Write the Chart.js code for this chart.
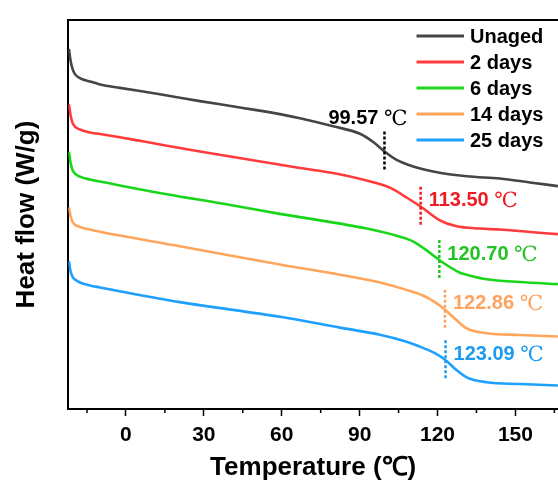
<!DOCTYPE html>
<html><head><meta charset="utf-8">
<script src="https://cdn.jsdelivr.net/npm/chart.js@4"></script>
<style>html,body{margin:0;padding:0;background:#fff;overflow:hidden}canvas{display:block}</style>
</head><body>
<canvas id="c" width="558" height="484"></canvas>
<script>
// ---- data (heat flow in arbitrary offset units) ----
const seriesNames  = ['Unaged', '2 days', '6 days', '14 days', '25 days'];
const seriesColors = ['#454545', '#ff3b3b', '#1ad61a', '#ffa65c', '#1ea0ff'];
const labelColors  = ['#000000', '#ee1c25', '#22c322', '#ffa35e', '#1c9cf0'];

const unagedT  = [-21.95,-21.37,-20.60,-19.64,-17.72,-13.86,-10.01,-2.31,13.09,28.50,43.90,59.31,67.01,79.83,90.12,95.24,99.74,104.25,110.64,118.34,131.21,144.03,155.58,166.36];
const unagedHF = [36.73,35.60,34.70,34.15,33.75,33.40,33.10,32.75,32.10,31.40,30.75,30.07,29.65,28.83,28.07,27.23,26.23,25.40,24.73,24.23,23.73,23.50,23.10,22.73];

const day2T  = [-21.95,-21.37,-20.60,-19.64,-17.72,-13.86,-10.01,5.39,28.50,67.01,79.83,92.70,101.67,108.10,113.88,120.92,127.36,136.30,144.03,155.58,166.36];
const day2HF = [31.07,30.00,29.20,28.80,28.50,28.20,28.05,27.35,26.25,24.57,24.07,23.30,22.57,21.57,20.57,19.23,18.63,18.40,18.30,18.05,17.83];

const day6T  = [-21.95,-21.37,-20.60,-19.64,-17.72,-13.86,-10.01,15.79,38.13,59.31,67.01,92.70,105.52,110.53,115.15,121.31,128.63,131.21,138.91,151.73,166.36];
const day6HF = [26.23,25.20,24.40,24.00,23.70,23.40,23.20,21.90,20.90,19.90,19.57,18.40,17.57,17.10,16.30,15.07,13.90,13.70,13.23,12.95,12.73];

const day14T  = [-21.95,-21.37,-20.60,-19.64,-17.72,-13.86,-10.01,20.80,59.31,82.41,97.82,107.45,114.38,119.00,123.12,126.70,131.21,138.91,151.73,166.36];
const day14HF = [20.57,19.70,19.10,18.80,18.57,18.30,18.07,16.60,14.73,13.70,12.90,12.20,11.57,10.90,10.07,9.20,8.23,7.73,7.55,7.40];

const day25T  = [-21.95,-21.37,-20.60,-19.64,-17.72,-13.86,-10.01,20.80,59.31,82.41,97.82,107.45,114.38,119.00,123.51,126.70,131.21,138.91,151.73,166.36];
const day25HF = [15.07,14.10,13.50,13.20,12.90,12.60,12.40,10.90,9.40,8.30,7.57,6.90,6.23,5.70,4.90,4.10,3.23,2.73,2.55,2.40];

const tgValues    = [99.57, 113.50, 120.70, 122.86, 123.09];
const xMajorTicks = [0, 30, 60, 90, 120, 150];
const xMinorTicks = [-15, 15, 45, 75, 105, 135, 165];

const seriesT  = [unagedT, day2T, day6T, day14T, day25T];
const seriesHF = [unagedHF, day2HF, day6HF, day14HF, day25HF];

const SANS = "'Liberation Sans', Arial, sans-serif";
const SERIF = "'Liberation Serif', 'DejaVu Serif', 'Times New Roman', serif";

function interp(data, xv) {
  for (let i = 0; i < data.length - 1; i++) {
    const a = data[i], b = data[i + 1];
    if (xv >= a.x && xv <= b.x) return a.y + (b.y - a.y) * (xv - a.x) / (b.x - a.x);
  }
  return data[data.length - 1].y;
}

const datasets = seriesNames.map((n, i) => ({
  label: n,
  data: seriesT[i].map((t, k) => ({ x: t, y: seriesHF[i][k] })),
  borderColor: seriesColors[i],
  backgroundColor: seriesColors[i],
  borderWidth: 2.6,
  pointRadius: 0,
  fill: false,
  cubicInterpolationMode: 'monotone'
}));

const decorPlugin = {
  id: 'decor',
  afterDraw(chart) {
    const { ctx, scales: { x, y } } = chart;
    ctx.save();
    // minor ticks
    ctx.strokeStyle = '#000'; ctx.lineWidth = 1.5;
    xMinorTicks.forEach(v => {
      const px = x.getPixelForValue(v);
      ctx.beginPath(); ctx.moveTo(px, x.top); ctx.lineTo(px, x.top + 4); ctx.stroke();
    });
    // Tg markers + labels
    chart.data.datasets.forEach((ds, i) => {
      const tg = tgValues[i];
      const px = x.getPixelForValue(tg);
      const py = y.getPixelForValue(interp(ds.data, tg));
      const top = py - 20, bot = py + 20;
      ctx.setLineDash([3, 2]);
      ctx.lineWidth = 2.5;
      ctx.strokeStyle = labelColors[i];
      ctx.beginPath(); ctx.moveTo(px, top); ctx.lineTo(px, bot); ctx.stroke();
      ctx.setLineDash([]);
      const num = tg.toFixed(2) + ' ';
      const unit = '\u2103';
      ctx.font = 'bold 20px ' + SANS;
      const w1 = ctx.measureText(num).width;
      ctx.font = '21px ' + SERIF;
      const w2 = ctx.measureText(unit).width;
      let tx, ty;
      if (i === 0) { tx = px + 23 - (w1 + w2); ty = top - 13; }
      else { tx = px + 8; ty = py - 6; }
      ctx.fillStyle = labelColors[i];
      ctx.textBaseline = 'middle'; ctx.textAlign = 'left';
      ctx.font = 'bold 20px ' + SANS;
      ctx.fillText(num, tx, ty);
      ctx.font = '21px ' + SERIF;
      ctx.fillText(unit, tx + w1, ty + 1);
    });
    // legend
    chart.data.datasets.forEach((ds, i) => {
      const ly = 36 + i * 26;
      ctx.strokeStyle = ds.borderColor; ctx.lineWidth = 3;
      ctx.beginPath(); ctx.moveTo(416.5, ly); ctx.lineTo(464, ly); ctx.stroke();
      ctx.fillStyle = '#000';
      ctx.font = 'bold 20px ' + SANS;
      ctx.textBaseline = 'middle'; ctx.textAlign = 'left';
      ctx.fillText(ds.label, 470, ly + 1);
    });
    ctx.restore();
  }
};

new Chart(document.getElementById('c'), {
  type: 'line',
  data: { datasets },
  options: {
    responsive: false,
    animation: false,
    layout: { padding: { top: 12, left: 0, right: 0, bottom: 0 } },
    plugins: { legend: { display: false }, tooltip: { enabled: false } },
    scales: {
      x: {
        type: 'linear', position: 'bottom', min: -22.2, max: 166.4,
        afterFit: s => { s.height = 75; },
        afterBuildTicks: s => { s.ticks = xMajorTicks.map(v => ({ value: v })); },
        ticks: { color: '#000', font: { family: SANS, size: 21, weight: 'bold' }, padding: 7, maxRotation: 0, autoSkip: false },
        grid: { display: true, drawOnChartArea: false, tickLength: 7, tickWidth: 1.5, tickColor: '#000' },
        border: { display: true, color: '#000', width: 2 },
        title: { display: true, text: 'Temperature (\u2103)', color: '#000',
                 font: { family: SANS, size: 26, weight: 'bold' }, padding: { top: 0, bottom: 1 } }
      },
      xTop: {
        type: 'linear', position: 'top', axis: 'x', min: -22.2, max: 166.4,
        ticks: { display: false }, grid: { display: false },
        border: { display: true, color: '#000', width: 2 }
      },
      y: {
        type: 'linear', position: 'left', min: 0, max: 39.67,
        afterFit: s => { s.width = 68.3; },
        ticks: { display: false }, grid: { display: false },
        border: { display: true, color: '#000', width: 2 },
        title: { display: true, text: 'Heat flow (W/g)', color: '#000',
                 font: { family: SANS, size: 26, weight: 'bold' }, padding: { top: 11, bottom: 0 } }
      }
    }
  },
  plugins: [decorPlugin]
});
</script>
</body></html>
